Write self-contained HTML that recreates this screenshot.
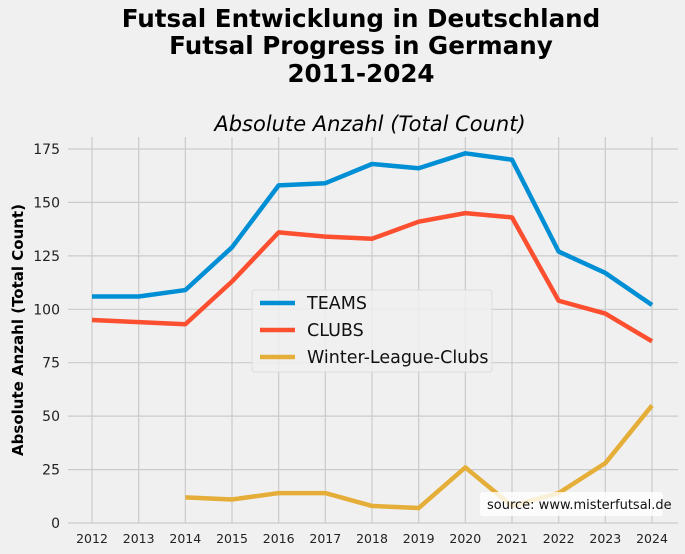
<!DOCTYPE html>
<html><head><style>
html,body{margin:0;padding:0;background:#f0f0f0;}
svg{display:block;font-family:"DejaVu Sans","Liberation Sans",sans-serif;}
</style></head><body>
<svg width="685" height="554" viewBox="0 0 685 554" xmlns="http://www.w3.org/2000/svg">
<rect width="685" height="554" fill="#f0f0f0"/>
<g font-weight="bold" font-size="24.6" text-anchor="middle" fill="#000">
<text x="361" y="27">Futsal Entwicklung in Deutschland</text>
<text x="361" y="54">Futsal Progress in Germany</text>
<text x="361" y="82">2011-2024</text>
</g>
<text x="370" y="131" font-size="21" font-style="italic" text-anchor="middle">Absolute Anzahl (Total Count)</text>
<g stroke="#cbcbcb" stroke-width="1.2">
<line x1="92" y1="137" x2="92" y2="523"/><line x1="138.7" y1="137" x2="138.7" y2="523"/><line x1="185.3" y1="137" x2="185.3" y2="523"/><line x1="232" y1="137" x2="232" y2="523"/><line x1="278.7" y1="137" x2="278.7" y2="523"/><line x1="325.3" y1="137" x2="325.3" y2="523"/><line x1="372" y1="137" x2="372" y2="523"/><line x1="418.7" y1="137" x2="418.7" y2="523"/><line x1="465.3" y1="137" x2="465.3" y2="523"/><line x1="512" y1="137" x2="512" y2="523"/><line x1="558.7" y1="137" x2="558.7" y2="523"/><line x1="605.3" y1="137" x2="605.3" y2="523"/><line x1="652" y1="137" x2="652" y2="523"/>
<line x1="68" y1="523" x2="678" y2="523"/><line x1="68" y1="469.6" x2="678" y2="469.6"/><line x1="68" y1="416.1" x2="678" y2="416.1"/><line x1="68" y1="362.7" x2="678" y2="362.7"/><line x1="68" y1="309.3" x2="678" y2="309.3"/><line x1="68" y1="255.9" x2="678" y2="255.9"/><line x1="68" y1="202.4" x2="678" y2="202.4"/><line x1="68" y1="149" x2="678" y2="149"/>
</g>
<g font-size="14" text-anchor="end" fill="#222">
<text x="60" y="528">0</text><text x="60" y="474.6">25</text><text x="60" y="421.1">50</text><text x="60" y="367.7">75</text><text x="60" y="314.3">100</text><text x="60" y="260.9">125</text><text x="60" y="207.4">150</text><text x="60" y="154">175</text>
</g>
<g font-size="12.5" text-anchor="middle" fill="#222">
<text x="92" y="543">2012</text><text x="138.7" y="543">2013</text><text x="185.3" y="543">2014</text><text x="232" y="543">2015</text><text x="278.7" y="543">2016</text><text x="325.3" y="543">2017</text><text x="372" y="543">2018</text><text x="418.7" y="543">2019</text><text x="465.3" y="543">2020</text><text x="512" y="543">2021</text><text x="558.7" y="543">2022</text><text x="605.3" y="543">2023</text><text x="652" y="543">2024</text>
</g>
<text transform="translate(23,330) rotate(-90)" font-size="15" font-weight="bold" text-anchor="middle">Absolute Anzahl (Total Count)</text>
<g transform="translate(92,523) scale(46.667,-2.137)" fill="none" stroke-linejoin="round">
<polyline vector-effect="non-scaling-stroke" stroke="#008fd5" stroke-width="4.5" points="0,106 1,106 2,109 3,129 4,158 5,159 6,168 7,166 8,173 9,170 10,127 11,117 12,102"/>
<polyline vector-effect="non-scaling-stroke" stroke="#fc4f30" stroke-width="4.5" points="0,95 1,94 2,93 3,113 4,136 5,134 6,133 7,141 8,145 9,143 10,104 11,98 12,85"/>
<polyline vector-effect="non-scaling-stroke" stroke="#e5ae38" stroke-width="4.5" points="2,12 3,11 4,14 5,14 6,8 7,7 8,26 9,8 10,14 11,28 12,55"/>
</g>
<rect x="252" y="290" width="240" height="82" rx="3" fill="#f0f0f0" fill-opacity="0.85" stroke="#dcdcdc"/>
<g stroke-width="4.5">
<line x1="260" y1="303" x2="295" y2="303" stroke="#008fd5"/>
<line x1="260" y1="330" x2="295" y2="330" stroke="#fc4f30"/>
<line x1="260" y1="357" x2="295" y2="357" stroke="#e5ae38"/>
</g>
<g font-size="17.5" fill="#111">
<text x="307" y="309">TEAMS</text><text x="307" y="336">CLUBS</text><text x="307" y="363">Winter-League-Clubs</text>
</g>
<rect x="480" y="492" width="183" height="24" rx="3" fill="#fff" fill-opacity="0.8"/>
<text x="487" y="509" font-size="13" fill="#111">source: www.misterfutsal.de</text>
</svg>
</body></html>
